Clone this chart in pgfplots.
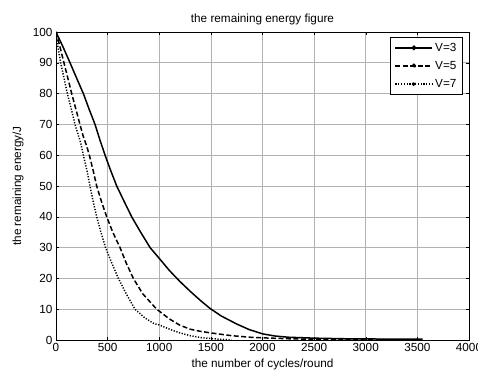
\documentclass[border=0pt]{standalone}
\usepackage{pgfplots}
\pgfplotsset{compat=1.18}
\usepackage{fontspec}
\setmainfont{Liberation Sans}
\begin{document}
\begin{tikzpicture}
\begin{axis}[
  scale only axis,
  width=413bp, height=308bp,
  at={(0,0)}, anchor=south west,
  xmin=0, xmax=4000, ymin=0, ymax=100,
  xtick={0,500,...,4000}, ytick={0,10,...,100},
  tick align=inside, tickpos=both,
  major tick length=3bp,
  grid=major,
  major grid style={gray!60, line width=0.6pt},
  axis line style={line width=0.7pt},
  tick style={black, line width=0.5pt},
  font=\fontsize{11.8}{13}\selectfont,
  /pgf/number format/assume math mode=true,
  /pgf/number format/1000 sep={},
  title={the remaining energy figure},
  title style={at={(axis description cs:0.5,1)}, anchor=base, yshift=4bp},
  xlabel={the number of cycles/round},
  ylabel={the remaining energy/J},
  xlabel style={at={(axis description cs:0.5,0)}, anchor=base, yshift=-27bp},
  ylabel style={at={(axis description cs:0,0.5)}, anchor=center, yshift=38bp},
  legend style={at={(0.985,0.985)}, anchor=north east, draw=black, line width=0.8pt,
    font=\fontsize{11.8}{13}\selectfont, row sep=4.5pt, inner xsep=4pt, inner ysep=4pt},
  legend cell align=left,
  legend image code/.code={\draw[#1] (0bp,0bp) -- (37bp,0bp); \fill (18.5bp,0bp) circle (1.6bp);},
]
\addplot[black, line width=1.5pt] coordinates {
(0,100) (70,95) (136,90) (200,85) (265,80) (320,75) (378,70) (425,65) (475,60) (530,55) (588,50) (660,45) (733,40) (820,35) (911,30) (1000,26.5) (1100,22.5) (1200,19) (1300,15.8) (1400,12.8) (1490,10.3) (1600,7.8) (1750,5.2) (1870,3.4) (2000,2.0) (2120,1.3) (2250,0.9) (2500,0.6) (2800,0.4) (3200,0.3) (3550,0.25)
};
\addlegendentry{V=3}
\addplot[black, line width=1.5pt, dash pattern=on 5pt off 2.5pt] coordinates {
(0,100) (40,95) (77,90) (115,85) (152,80) (192,75) (232,70) (265,66) (297,63) (323,60) (360,55) (394,50) (440,45) (491,40) (550,35) (620,30) (680,25) (749,20) (840,15) (975,10) (1100,6.8) (1200,4.8) (1300,3.5) (1400,2.8) (1500,2.3) (1700,1.4) (1880,0.9) (2000,0.7) (2300,0.35) (2600,0.2) (3000,0.1) (3500,0.05)
};
\addlegendentry{V=5}
\addplot[black, line width=1.5pt, dash pattern=on 1.2pt off 1.6pt] coordinates {
(0,100) (20,95) (45,90) (78,85) (110,80) (148,75) (184,70) (239,64) (265,60) (300,55) (329,50) (360,45) (394,40) (435,35) (480,30) (540,25) (604,20) (680,15) (765,10) (860,7.2) (950,5.3) (1000,4.9) (1100,3.5) (1200,2.3) (1300,1.4) (1400,0.8) (1500,0.5) (1600,0.2) (1700,0.05)
};
\addlegendentry{V=7}
\end{axis}
\pgfresetboundingbox
\path (-56bp,-33bp) rectangle (422bp,340bp);
\end{tikzpicture}
\end{document}
